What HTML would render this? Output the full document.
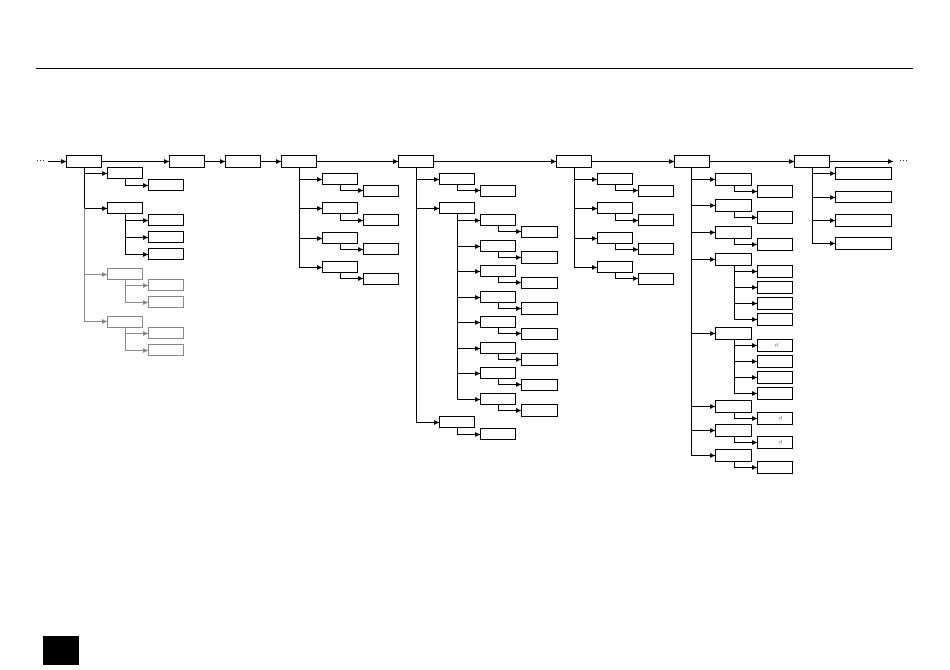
<!DOCTYPE html>
<html><head><meta charset="utf-8"><style>html,body{margin:0;padding:0;background:#fff}svg{display:block}</style></head>
<body>
<svg width="950" height="670" viewBox="0 0 950 670" xmlns="http://www.w3.org/2000/svg" font-family="Liberation Sans, sans-serif">
<defs>
<marker id="a" viewBox="0 0 6 6" refX="6" refY="3" markerWidth="5" markerHeight="5" orient="auto" markerUnits="userSpaceOnUse"><path d="M0 0L6 3L0 6z" fill="#000"/></marker>
<marker id="g" viewBox="0 0 6 6" refX="6" refY="3" markerWidth="5" markerHeight="5" orient="auto" markerUnits="userSpaceOnUse"><path d="M0 0L6 3L0 6z" fill="#888"/></marker>
</defs>
<line x1="36" y1="68.5" x2="913" y2="68.5" stroke="#000" stroke-width="1"/>
<rect x="43" y="636" width="36" height="29" fill="#000"/>
<text x="36" y="163" font-size="9" fill="#000">···</text>
<text x="899" y="163" font-size="9" fill="#000">···</text>

<g fill="none" stroke="#000" stroke-width="1">
<!-- main line -->
<path d="M48 161.5H66" marker-end="url(#a)"/>
<path d="M101 161.5H169" marker-end="url(#a)"/>
<path d="M205 161.5H225" marker-end="url(#a)"/>
<path d="M260 161.5H281" marker-end="url(#a)"/>
<path d="M316 161.5H398" marker-end="url(#a)"/>
<path d="M433 161.5H556" marker-end="url(#a)"/>
<path d="M591 161.5H674" marker-end="url(#a)"/>
<path d="M709 161.5H794" marker-end="url(#a)"/>
<path d="M829 161.5H893" marker-end="url(#a)"/>
<rect x="66.5" y="155.5" width="35" height="12"/>
<rect x="169.5" y="155.5" width="35" height="12"/>
<rect x="225.5" y="155.5" width="35" height="12"/>
<rect x="281.5" y="155.5" width="35" height="12"/>
<rect x="398.5" y="155.5" width="35" height="12"/>
<rect x="556.5" y="155.5" width="35" height="12"/>
<rect x="674.5" y="155.5" width="35" height="12"/>
<rect x="794.5" y="155.5" width="35" height="12"/>

<!-- group 1 -->
<path d="M84.5 167V173.5H107" marker-end="url(#a)"/>
<path d="M84.5 173V208.5H107" marker-end="url(#a)"/>
<rect x="107.5" y="167.5" width="35" height="11"/>
<rect x="107.5" y="202.5" width="35" height="11"/>
<path d="M125.5 179V185.5H148" marker-end="url(#a)"/>
<rect x="148.5" y="179.5" width="35" height="11"/>
<path d="M125.5 214V220.5H148" marker-end="url(#a)"/>
<path d="M125.5 220V237.5H148" marker-end="url(#a)"/>
<path d="M125.5 237V254.5H148" marker-end="url(#a)"/>
<rect x="148.5" y="214.5" width="35" height="11"/>
<rect x="148.5" y="231.5" width="35" height="11"/>
<rect x="148.5" y="248.5" width="35" height="11"/>
</g>
<g fill="none" stroke="#888" stroke-width="1">
<path d="M84.5 208V274.5H107" marker-end="url(#g)"/>
<path d="M84.5 274V321.5H107" marker-end="url(#g)"/>
<rect x="107.5" y="268.5" width="35" height="11"/>
<rect x="107.5" y="316.5" width="35" height="11"/>
<path d="M125.5 280V285.5H148" marker-end="url(#g)"/>
<path d="M125.5 285V302.5H148" marker-end="url(#g)"/>
<path d="M125.5 328V333.5H148" marker-end="url(#g)"/>
<path d="M125.5 333V350.5H148" marker-end="url(#g)"/>
<rect x="148.5" y="279.5" width="35" height="11"/>
<rect x="148.5" y="296.5" width="35" height="11"/>
<rect x="148.5" y="327.5" width="35" height="11"/>
<rect x="148.5" y="344.5" width="35" height="11"/>
</g>

<g fill="none" stroke="#000" stroke-width="1">
<!-- group 2 -->
<path d="M299.5 167V179.5H322" marker-end="url(#a)"/>
<path d="M299.5 179V208.5H322" marker-end="url(#a)"/>
<path d="M299.5 208V238.5H322" marker-end="url(#a)"/>
<path d="M299.5 238V267.5H322" marker-end="url(#a)"/>
<rect x="322.5" y="173.5" width="35" height="11"/>
<rect x="322.5" y="202.5" width="35" height="11"/>
<rect x="322.5" y="232.5" width="35" height="11"/>
<rect x="322.5" y="261.5" width="35" height="11"/>
<path d="M340.5 185V190.5H363" marker-end="url(#a)"/>
<path d="M340.5 214V220.5H363" marker-end="url(#a)"/>
<path d="M340.5 244V249.5H363" marker-end="url(#a)"/>
<path d="M340.5 273V278.5H363" marker-end="url(#a)"/>
<rect x="363.5" y="185.5" width="35" height="11"/>
<rect x="363.5" y="214.5" width="35" height="11"/>
<rect x="363.5" y="243.5" width="35" height="11"/>
<rect x="363.5" y="273.5" width="35" height="11"/>

<!-- group 3 -->
<path d="M416.5 167V179.5H439" marker-end="url(#a)"/>
<path d="M416.5 179V208.5H439" marker-end="url(#a)"/>
<path d="M416.5 208V422.5H439" marker-end="url(#a)"/>
<rect x="439.5" y="173.5" width="35" height="11"/>
<rect x="439.5" y="202.5" width="35" height="11"/>
<rect x="439.5" y="416.5" width="35" height="11"/>
<path d="M457.5 185V190.5H480" marker-end="url(#a)"/>
<rect x="480.5" y="185.5" width="35" height="11"/>
<path d="M457.5 428V434.5H480" marker-end="url(#a)"/>
<rect x="480.5" y="428.5" width="35" height="11"/>
<path d="M457.5 214V220.5H480" marker-end="url(#a)"/>
<path d="M457.5 220V246.5H480" marker-end="url(#a)"/>
<path d="M457.5 246V271.5H480" marker-end="url(#a)"/>
<path d="M457.5 271V297.5H480" marker-end="url(#a)"/>
<path d="M457.5 297V322.5H480" marker-end="url(#a)"/>
<path d="M457.5 322V348.5H480" marker-end="url(#a)"/>
<path d="M457.5 348V373.5H480" marker-end="url(#a)"/>
<path d="M457.5 373V399.5H480" marker-end="url(#a)"/>
<rect x="480.5" y="214.5" width="35" height="11"/>
<rect x="480.5" y="240.5" width="35" height="11"/>
<rect x="480.5" y="265.5" width="35" height="11"/>
<rect x="480.5" y="291.5" width="35" height="11"/>
<rect x="480.5" y="316.5" width="35" height="11"/>
<rect x="480.5" y="342.5" width="35" height="11"/>
<rect x="480.5" y="367.5" width="35" height="11"/>
<rect x="480.5" y="393.5" width="35" height="11"/>
<path d="M498.5 226V231.5H521" marker-end="url(#a)"/>
<path d="M498.5 252V257.5H521" marker-end="url(#a)"/>
<path d="M498.5 277V282.5H521" marker-end="url(#a)"/>
<path d="M498.5 303V308.5H521" marker-end="url(#a)"/>
<path d="M498.5 328V333.5H521" marker-end="url(#a)"/>
<path d="M498.5 354V359.5H521" marker-end="url(#a)"/>
<path d="M498.5 379V384.5H521" marker-end="url(#a)"/>
<path d="M498.5 405V410.5H521" marker-end="url(#a)"/>
<rect x="521.5" y="226.5" width="36" height="11"/>
<rect x="521.5" y="251.5" width="36" height="12"/>
<rect x="521.5" y="277.5" width="36" height="11"/>
<rect x="521.5" y="302.5" width="36" height="12"/>
<rect x="521.5" y="328.5" width="36" height="11"/>
<rect x="521.5" y="353.5" width="36" height="12"/>
<rect x="521.5" y="379.5" width="36" height="11"/>
<rect x="521.5" y="404.5" width="36" height="12"/>

<!-- group 4 -->
<path d="M574.5 167V179.5H597" marker-end="url(#a)"/>
<path d="M574.5 179V208.5H597" marker-end="url(#a)"/>
<path d="M574.5 208V238.5H597" marker-end="url(#a)"/>
<path d="M574.5 238V267.5H597" marker-end="url(#a)"/>
<rect x="597.5" y="173.5" width="35" height="11"/>
<rect x="597.5" y="202.5" width="35" height="11"/>
<rect x="597.5" y="232.5" width="35" height="11"/>
<rect x="597.5" y="261.5" width="35" height="11"/>
<path d="M615.5 185V190.5H638" marker-end="url(#a)"/>
<path d="M615.5 214V220.5H638" marker-end="url(#a)"/>
<path d="M615.5 244V249.5H638" marker-end="url(#a)"/>
<path d="M615.5 273V278.5H638" marker-end="url(#a)"/>
<rect x="638.5" y="185.5" width="35" height="11"/>
<rect x="638.5" y="214.5" width="35" height="11"/>
<rect x="638.5" y="243.5" width="35" height="11"/>
<rect x="638.5" y="273.5" width="35" height="11"/>

<!-- group 5 -->
<path d="M691.5 167V179.5H715" marker-end="url(#a)"/>
<path d="M691.5 179V205.5H715" marker-end="url(#a)"/>
<path d="M691.5 205V232.5H715" marker-end="url(#a)"/>
<path d="M691.5 232V259.5H715" marker-end="url(#a)"/>
<path d="M691.5 259V333.5H715" marker-end="url(#a)"/>
<path d="M691.5 333V406.5H715" marker-end="url(#a)"/>
<path d="M691.5 406V430.5H715" marker-end="url(#a)"/>
<path d="M691.5 430V455.5H715" marker-end="url(#a)"/>
<rect x="715.5" y="173.5" width="36" height="12"/>
<rect x="715.5" y="199.5" width="36" height="12"/>
<rect x="715.5" y="226.5" width="36" height="12"/>
<rect x="715.5" y="253.5" width="36" height="12"/>
<rect x="715.5" y="327.5" width="36" height="12"/>
<rect x="715.5" y="400.5" width="36" height="12"/>
<rect x="715.5" y="424.5" width="36" height="12"/>
<rect x="715.5" y="449.5" width="36" height="12"/>
<path d="M734.5 186V191.5H757" marker-end="url(#a)"/>
<path d="M734.5 212V217.5H757" marker-end="url(#a)"/>
<path d="M734.5 239V244.5H757" marker-end="url(#a)"/>
<path d="M734.5 266V271.5H757" marker-end="url(#a)"/>
<path d="M734.5 271V287.5H757" marker-end="url(#a)"/>
<path d="M734.5 287V303.5H757" marker-end="url(#a)"/>
<path d="M734.5 303V319.5H757" marker-end="url(#a)"/>
<path d="M734.5 340V345.5H757" marker-end="url(#a)"/>
<path d="M734.5 345V361.5H757" marker-end="url(#a)"/>
<path d="M734.5 361V377.5H757" marker-end="url(#a)"/>
<path d="M734.5 377V393.5H757" marker-end="url(#a)"/>
<path d="M734.5 413V418.5H757" marker-end="url(#a)"/>
<path d="M734.5 437V442.5H757" marker-end="url(#a)"/>
<path d="M734.5 462V467.5H757" marker-end="url(#a)"/>
<rect x="757.5" y="185.5" width="35" height="12"/>
<rect x="757.5" y="211.5" width="35" height="12"/>
<rect x="757.5" y="238.5" width="35" height="12"/>
<rect x="757.5" y="265.5" width="35" height="12"/>
<rect x="757.5" y="281.5" width="35" height="12"/>
<rect x="757.5" y="297.5" width="35" height="12"/>
<rect x="757.5" y="313.5" width="35" height="12"/>
<rect x="757.5" y="339.5" width="35" height="12"/>
<rect x="757.5" y="355.5" width="35" height="12"/>
<rect x="757.5" y="371.5" width="35" height="12"/>
<rect x="757.5" y="387.5" width="35" height="12"/>
<rect x="757.5" y="412.5" width="35" height="12"/>
<rect x="757.5" y="436.5" width="35" height="12"/>
<rect x="757.5" y="461.5" width="35" height="12"/>

<!-- group 6 -->
<path d="M812.5 167V173.5H835" marker-end="url(#a)"/>
<path d="M812.5 173V197.5H835" marker-end="url(#a)"/>
<path d="M812.5 197V220.5H835" marker-end="url(#a)"/>
<path d="M812.5 220V243.5H835" marker-end="url(#a)"/>
<rect x="835.5" y="167.5" width="56" height="12"/>
<rect x="835.5" y="191.5" width="56" height="11"/>
<rect x="835.5" y="214.5" width="56" height="12"/>
<rect x="835.5" y="237.5" width="56" height="12"/>
</g>
<g font-size="5" fill="#666">
<text x="775" y="347">rf</text>
<text x="779" y="420">rf</text>
<text x="779" y="444">rf</text>
</g>
</svg>
</body></html>
